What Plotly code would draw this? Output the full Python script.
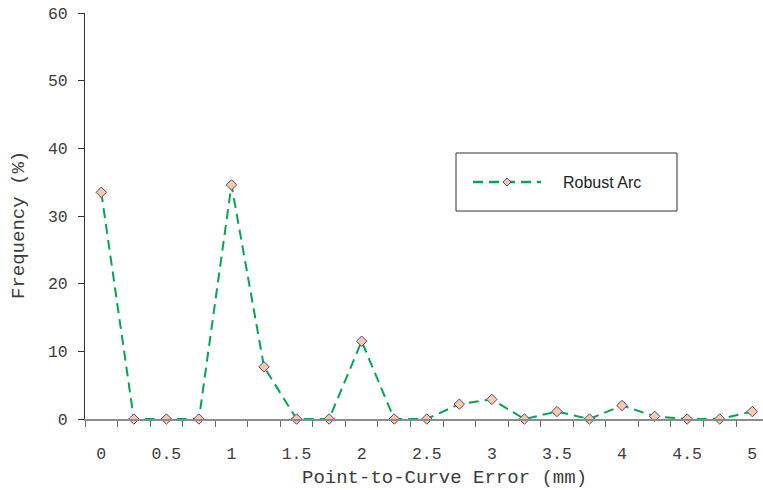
import plotly.graph_objects as go

# Data
error_mm = [0, 0.25, 0.5, 0.75, 1, 1.25, 1.5, 1.75, 2, 2.25, 2.5,
            2.75, 3, 3.25, 3.5, 3.75, 4, 4.25, 4.5, 4.75, 5]
frequency = [33.5, 0, 0, 0, 34.6, 7.7, 0, 0, 11.5, 0, 0,
             2.2, 2.9, 0, 1.1, 0, 2.0, 0.4, 0, 0, 1.1]
x_tick_vals = [0, 0.5, 1, 1.5, 2, 2.5, 3, 3.5, 4, 4.5, 5]
x_tick_text = ["0", "0.5", "1", "1.5", "2", "2.5", "3", "3.5", "4", "4.5", "5"]
y_tick_vals = [0, 10, 20, 30, 40, 50, 60]
series_name = "Robust Arc"
x_title = "Point-to-Curve Error (mm)"
y_title = "Frequency (%)"

GREEN = "#00A651"
MONO = "Liberation Mono, Courier New, monospace"
TXT = "#3C3C3C"

fig = go.Figure()
fig.add_trace(go.Scatter(
    x=error_mm, y=frequency, mode="lines+markers", name=series_name,
    line=dict(color=GREEN, width=2, dash="10px,6px"),
    marker=dict(symbol="diamond", size=8, color="#FFCC99",
                line=dict(color="#4040B0", width=1)),
    cliponaxis=False, showlegend=False,
))

W, H = 763, 490
L, R, T, B = 85, 0, 13, 71
pw, ph = W - L - R, H - T - B

def px(xp):
    return (xp - L) / pw

def py(yp):
    return (H - B - yp) / ph

# manual legend
shapes = [
    dict(type="rect", xref="paper", yref="paper",
         x0=px(456), x1=px(677), y0=py(211), y1=py(153),
         line=dict(color="#333333", width=1), fillcolor="white", layer="above"),
    dict(type="line", xref="paper", yref="paper",
         x0=px(473), x1=px(541), y0=py(182), y1=py(182),
         line=dict(color=GREEN, width=2.5, dash="10px,6px"), layer="above"),
    dict(type="path", xref="paper", yref="paper", xsizemode="pixel", ysizemode="pixel",
         xanchor=px(507), yanchor=py(182),
         path="M0,4 L4,0 L0,-4 L-4,0 Z",
         fillcolor="#FFCC99", line=dict(color="#4040B0", width=1), layer="above"),
]
annotations = [
    dict(xref="paper", yref="paper", x=px(561), y=py(182), text=series_name,
         showarrow=False, xanchor="left", yanchor="middle",
         font=dict(family="Liberation Sans, Arial", size=16, color="#222222")),
    dict(xref="paper", yref="paper", x=px(444), y=py(478), text=x_title,
         showarrow=False, xanchor="center", yanchor="middle",
         font=dict(family=MONO, size=19, color=TXT)),
    dict(xref="paper", yref="paper", x=px(19), y=py(225), text=y_title,
         showarrow=False, xanchor="center", yanchor="middle", textangle=-90,
         font=dict(family=MONO, size=19, color=TXT)),
]

fig.update_layout(
    width=W, height=H,
    margin=dict(l=L, r=R, t=T, b=B, autoexpand=False),
    paper_bgcolor="white", plot_bgcolor="white",
    shapes=shapes, annotations=annotations,
    xaxis=dict(
        range=[-0.125, -0.125 + pw / 130.2],
        tickmode="array", tickvals=x_tick_vals, ticktext=x_tick_text,
        ticks="", ticklabelstandoff=18,
        minor=dict(tickmode="linear", tick0=-0.125, dtick=0.25, ticks="outside",
                   ticklen=6, tickcolor="#666666", tickwidth=1, showgrid=False),
        showline=True, linecolor="#8C8C8C", linewidth=2,
        showgrid=False, zeroline=False,
        tickfont=dict(family=MONO, size=16.5, color=TXT),
    ),
    yaxis=dict(
        range=[0, 60], tickmode="array", tickvals=y_tick_vals,
        ticks="outside", ticklen=6, tickcolor="#333333", tickwidth=1,
        ticklabelstandoff=7,
        showline=True, linecolor="#333333", linewidth=1,
        showgrid=False, zeroline=False,
        tickfont=dict(family=MONO, size=16.5, color=TXT),
    ),
)

fig.write_html("out.html")
